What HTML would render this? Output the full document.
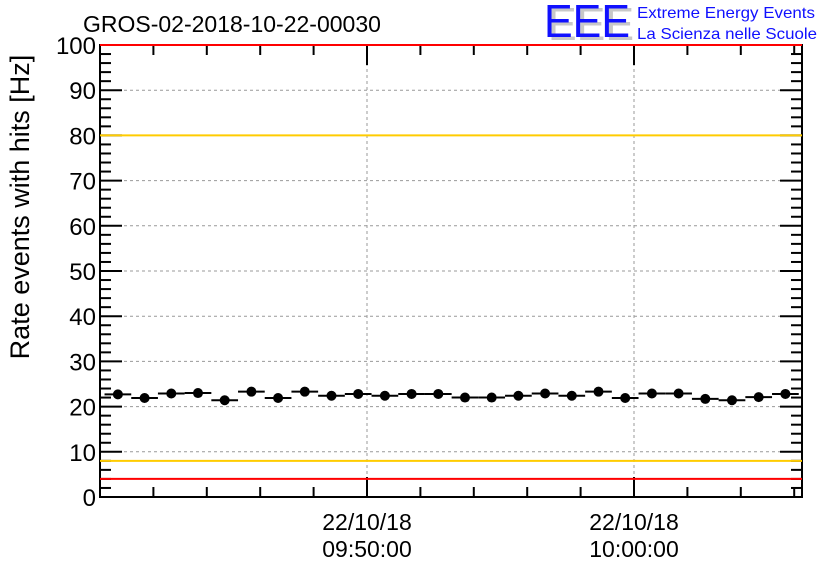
<!DOCTYPE html>
<html><head><meta charset="utf-8"><style>
body{margin:0;background:#fff;}
svg{display:block;font-family:"Liberation Sans",sans-serif;}
</style></head><body>
<svg id="c" width="836" height="572" viewBox="0 0 836 572">
<text x="83" y="32" font-size="23">GROS-02-2018-10-22-00030</text>
<g>
<text x="548" y="40" font-size="46" fill="#c8c8c8" textLength="86" lengthAdjust="spacingAndGlyphs">EEE</text>
<text x="544" y="37" font-size="46" fill="#1010ff" textLength="86" lengthAdjust="spacingAndGlyphs">EEE</text>
<text x="637" y="18" font-size="16" fill="#1010ff" textLength="178" lengthAdjust="spacingAndGlyphs">Extreme Energy Events</text>
<text x="637" y="39" font-size="16" fill="#1010ff" textLength="180" lengthAdjust="spacingAndGlyphs">La Scienza nelle Scuole</text>
</g>
<text transform="translate(29,207) rotate(-90)" text-anchor="middle" font-size="27">Rate events with hits [Hz]</text>
<g id="grid"></g><g id="axes"></g><g id="refs"></g><g id="marks"></g>
</svg>
<script>
const rates=[22.7,21.9,22.9,23.0,21.4,23.3,21.9,23.3,22.4,22.8,22.4,22.8,22.8,22.0,22.0,22.4,22.9,22.4,23.3,21.9,22.9,22.9,21.7,21.4,22.1,22.8];
const firstMin=-9.33; // minutes relative to 09:50:00
const yTicks=[0,10,20,30,40,50,60,70,80,90,100];
const xMajorMin=[0,10];
const xMajorLabels=[["22/10/18","09:50:00"],["22/10/18","10:00:00"]];
const redLevels=[4,100];
const orangeLevels=[8,80];
const L=100,R=802,T=45,B=497;
const X=t=>367+(t)*26.7;
const Y=v=>B-(v)*(B-T)/100;
const NS="http://www.w3.org/2000/svg";
function mk(p,tag,a){const e=document.createElementNS(NS,tag);for(const k in a)e.setAttribute(k,a[k]);document.getElementById(p).appendChild(e);return e;}
yTicks.forEach(v=>{if(v>0&&v<100){const g=mk('grid','line',{x1:L,x2:R,y1:Y(v),y2:Y(v),stroke:'#999','stroke-dasharray':'3,3','stroke-width':1});

}});
xMajorMin.forEach(t=>{const g=mk('grid','line',{x1:X(t),x2:X(t),y1:T,y2:B,stroke:'#999','stroke-dasharray':'3,3','stroke-width':1});

});
redLevels.forEach(v=>{const l=mk('refs','line',{x1:L,x2:R,y1:Y(v),y2:Y(v),stroke:'#ff0000','stroke-width':2});

});
orangeLevels.forEach(v=>{const l=mk('refs','line',{x1:L,x2:R,y1:Y(v),y2:Y(v),stroke:'#ffcc00','stroke-width':2});

});
rates.forEach((v,i)=>{const t=firstMin+i;
const b=mk('marks','line',{x1:X(t-0.5),x2:X(t+0.5),y1:Y(v),y2:Y(v),stroke:'#000','stroke-width':2});


const c=mk('marks','circle',{cx:X(t),cy:Y(v),r:5,fill:'#000'});

});
const fr=mk('axes','rect',{x:L,y:T,width:R-L,height:B-T,fill:'none',stroke:'#000','stroke-width':2});


for(let v=0;v<=100;v+=2){const major=v%10===0,len=major?22:11;
mk('axes','line',{x1:L,x2:L+len,y1:Y(v),y2:Y(v),stroke:'#000','stroke-width':2});
mk('axes','line',{x1:R-len,x2:R,y1:Y(v),y2:Y(v),stroke:'#000','stroke-width':2});}
yTicks.forEach(v=>{const t=mk('axes','text',{x:L-4,y:Y(v)+9,'text-anchor':'end','font-size':24});t.textContent=v;

});
for(let m=-8;m<=16;m+=2){const major=m%10===0,len=major?20:10;
mk('axes','line',{x1:X(m),x2:X(m),y1:B,y2:B-len,stroke:'#000','stroke-width':2});
mk('axes','line',{x1:X(m),x2:X(m),y1:T,y2:T+len,stroke:'#000','stroke-width':2});}
xMajorMin.forEach((m,i)=>{xMajorLabels[i].forEach((s,j)=>{const t=mk('axes','text',{x:X(m),y:530+j*27,'text-anchor':'middle','font-size':23});t.textContent=s;

});});
</script>
</body></html>
